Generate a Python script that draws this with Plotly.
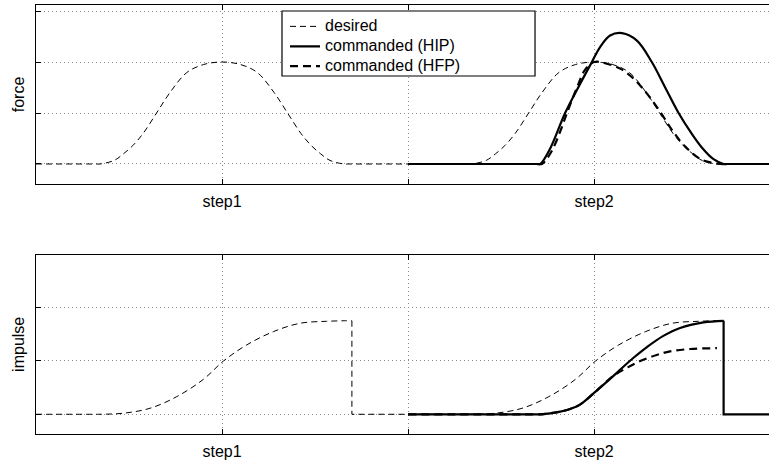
import plotly.graph_objects as go

# ---------------- data ----------------
# time axis: one step spans 1.0 unit; step1 centred at 0.5, step2 at 1.5
tick_vals = [0.5, 1.0, 1.5]
tick_text = ["step1", "", "step2"]
series_names = ["desired", "commanded (HIP)", "commanded (HFP)"]

# force: desired (both steps)
t_des_f = [0.0, 0.16, 0.172, 0.21, 0.235, 0.26, 0.288, 0.324, 0.36, 0.405, 0.45, 0.5,
           0.55, 0.595, 0.64, 0.676, 0.712, 0.74, 0.765, 0.79, 0.828, 0.84,
           1.16, 1.172, 1.21, 1.235, 1.26, 1.288, 1.324, 1.36, 1.405, 1.45, 1.5,
           1.55, 1.595, 1.64, 1.676, 1.712, 1.74, 1.765, 1.79, 1.828, 1.84, 1.97]
f_des = [0.0, 0.0, 0.0, 0.035, 0.10, 0.18, 0.30, 0.50, 0.70, 0.896, 0.975, 1.0,
         0.975, 0.896, 0.70, 0.50, 0.30, 0.18, 0.10, 0.035, 0.0, 0.0,
         0.0, 0.0, 0.035, 0.10, 0.18, 0.30, 0.50, 0.70, 0.896, 0.975, 1.0,
         0.975, 0.896, 0.70, 0.50, 0.30, 0.18, 0.10, 0.035, 0.0, 0.0, 0.0]

# force: commanded (HIP)
t_hip_f = [1.0, 1.345, 1.355, 1.382, 1.422, 1.458, 1.494, 1.516, 1.543, 1.575,
           1.615, 1.655, 1.691, 1.727, 1.76, 1.79, 1.82, 1.848, 1.858, 1.97]
f_hip = [0.0, 0.0, 0.0, 0.153, 0.5, 0.756, 1.0, 1.147, 1.26, 1.283,
         1.21, 1.0, 0.75, 0.5, 0.31, 0.16, 0.05, 0.0, 0.0, 0.0]

# force: commanded (HFP)
t_hfp_f = [1.0, 1.35, 1.36, 1.385, 1.41, 1.427, 1.455, 1.475, 1.5, 1.527, 1.57,
           1.606, 1.642, 1.678, 1.71, 1.745, 1.79, 1.84, 1.85]
f_hfp = [0.0, 0.0, 0.0, 0.12, 0.33, 0.5, 0.76, 0.92, 1.0, 0.99, 0.935,
         0.838, 0.69, 0.51, 0.33, 0.17, 0.04, 0.0, 0.0]

# impulse: desired, step1 (rise)
t_des_i1 = [0.0, 0.16, 0.172, 0.235, 0.306, 0.378, 0.45, 0.504, 0.566, 0.638, 0.71,
            0.781, 0.828, 0.849]
i_des1 = [0.0, 0.0, 0.0, 0.01, 0.056, 0.165, 0.328, 0.5, 0.65, 0.775, 0.854,
          0.872, 0.877, 0.877]
# impulse: desired, step2 (rise)
t_des_i2 = [1.16, 1.172, 1.235, 1.306, 1.378, 1.45, 1.504, 1.566, 1.638, 1.71,
            1.781, 1.828, 1.849]
i_des2 = [0.0, 0.0, 0.01, 0.056, 0.165, 0.328, 0.5, 0.65, 0.775, 0.854,
          0.872, 0.877, 0.877]
# reset segment (desired impulse, end of step1)
t_des_reset = [0.849, 0.849, 1.16]
i_des_reset = [0.877, 0.0, 0.0]

# impulse: commanded (HIP)
t_hip_i = [1.0, 1.345, 1.355, 1.409, 1.4355, 1.462, 1.503, 1.552, 1.583, 1.606,
           1.642, 1.686, 1.731, 1.794, 1.848]
i_hip = [0.0, 0.0, 0.0, 0.025, 0.05, 0.09, 0.21, 0.36, 0.46, 0.53,
         0.63, 0.735, 0.81, 0.862, 0.877]
t_hip_reset = [1.848, 1.848, 1.97]
i_hip_reset = [0.877, 0.0, 0.0]

# impulse: commanded (HFP)
t_hfp_i = [1.0, 1.35, 1.36, 1.409, 1.4355, 1.462, 1.503, 1.552, 1.588, 1.624,
           1.668, 1.704, 1.758, 1.83]
i_hfp = [0.0, 0.0, 0.0, 0.025, 0.05, 0.09, 0.21, 0.36, 0.435, 0.50,
         0.556, 0.59, 0.612, 0.62]

# ---------------- styles ----------------
FONT = "Liberation Sans, Arial, Helvetica, sans-serif"
S_DES = dict(color="black", width=1, dash="6px,4px")
S_HIP = dict(color="black", width=2.2)
S_HFP = dict(color="black", width=2.2, dash="8px,5px")

fig = go.Figure()


def label(name):
    return '<span style="font-size:16px">' + name + '</span>'


def add(x, y, line, name, show, axis, shape="spline"):
    ln = dict(line)
    ln["shape"] = shape
    if shape == "spline":
        ln["smoothing"] = 1.0
    fig.add_trace(go.Scatter(
        x=x, y=y, mode="lines", line=ln, name=label(name), showlegend=show,
        xaxis="x" if axis == 1 else "x2",
        yaxis="y" if axis == 1 else "y2", hoverinfo="skip"))


# top: force
add(t_des_f, f_des, S_DES, series_names[0], True, 1)
add(t_hip_f, f_hip, S_HIP, series_names[1], True, 1)
add(t_hfp_f, f_hfp, S_HFP, series_names[2], True, 1)
# bottom: impulse
add(t_des_i1, i_des1, S_DES, series_names[0], False, 2)
add(t_des_reset, i_des_reset, S_DES, series_names[0], False, 2, shape="linear")
add(t_des_i2, i_des2, S_DES, series_names[0], False, 2)
add(t_hip_i, i_hip, S_HIP, series_names[1], False, 2)
add(t_hip_reset, i_hip_reset, S_HIP, series_names[1], False, 2, shape="linear")
add(t_hfp_i, i_hfp, S_HFP, series_names[2], False, 2)

GRID = dict(showgrid=True, gridcolor="#8a8a8a", gridwidth=1, griddash="1px,3px",
            zeroline=False, showline=True, linecolor="black", linewidth=1.2,
            ticks="inside", ticklen=5, tickcolor="black", tickwidth=1)

xcommon = dict(GRID, range=[0, 1.970], tickmode="array", tickvals=tick_vals,
               ticktext=tick_text, mirror="ticks", ticklabelstandoff=3,
               tickfont=dict(family=FONT, size=16, color="black"))

fig.update_layout(
    width=769, height=460,
    margin=dict(l=36, r=0, t=5, b=26),
    paper_bgcolor="white", plot_bgcolor="white",
    font=dict(family=FONT, size=16, color="black"),
    xaxis=dict(xcommon, domain=[0, 1], anchor="y"),
    xaxis2=dict(xcommon, domain=[0, 1], anchor="y2"),
    yaxis=dict(GRID, domain=[0.5828, 1.0], anchor="x", range=[-0.196, 1.559],
               tickmode="array", tickvals=[0, 0.5, 1.0, 1.5], showticklabels=False,
               mirror=False,
               title=dict(text="force", standoff=6,
                          font=dict(family=FONT, size=16, color="black"))),
    yaxis2=dict(GRID, domain=[0.0, 0.418], anchor="x2", range=[-0.185, 1.497],
                tickmode="array", tickvals=[0, 0.5, 1.0], showticklabels=False,
                mirror=False,
                title=dict(text="impulse", standoff=6,
                           font=dict(family=FONT, size=16, color="black"))),
    showlegend=True,
    legend=dict(x=0.3397, y=0.985, xanchor="left", yanchor="top",
                bgcolor="rgba(0,0,0,0)", borderwidth=0,
                font=dict(family=FONT, size=13, color="black"),
                tracegroupgap=0, itemwidth=30),
    shapes=[dict(type="rect", xref="paper", yref="paper",
                 x0=0.3356, x1=0.6808, y0=0.8345, y1=0.986,
                 line=dict(color="black", width=1.2), fillcolor="white",
                 layer="above")],
)

fig.write_html("out.html")
